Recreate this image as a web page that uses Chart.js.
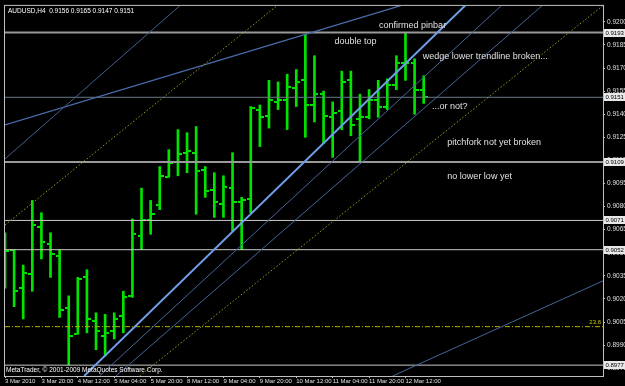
<!DOCTYPE html>
<html>
<head>
<meta charset="utf-8">
<script src="https://cdn.jsdelivr.net/npm/chart.js@4.4.1/dist/chart.umd.min.js"></script>
<style>
  html, body { margin: 0; padding: 0; background: #000; }
  canvas { display: block; }
</style>
</head>
<body>
<canvas id="chart" width="625" height="386"></canvas>
<script>
// ============================================
// AUDUSD H4 - 3 Mar 2010 04:00 .. 12 Mar 2010 20:00
// ============================================

const symbol = 'AUDUSD,H4';

// one value per H4 bar
const opens  = [0.9060, 0.9052, 0.9027, 0.9036, 0.9067, 0.9056, 0.9048, 0.9014, 0.8997, 0.9034,
                0.9006, 0.8996, 0.8999, 0.9009, 0.9022, 0.9061, 0.9071, 0.9081, 0.9099, 0.9109,
                0.9115, 0.9115, 0.9104, 0.9091, 0.9082, 0.9092, 0.9083, 0.9085, 0.9143, 0.9139,
                0.9148, 0.9149, 0.9157, 0.9162, 0.9146, 0.9153, 0.9138, 0.9142, 0.9162, 0.9137,
                0.9138, 0.9149, 0.9145, 0.9159, 0.9173, 0.9173, 0.9156];
const highs  = [0.9063, 0.9052, 0.9042, 0.9084, 0.9076, 0.9063, 0.9052, 0.9022, 0.9034, 0.9039,
                0.9011, 0.9010, 0.9011, 0.9025, 0.9072, 0.9092, 0.9084, 0.9106, 0.9117, 0.9130,
                0.9128, 0.9132, 0.9106, 0.9102, 0.9100, 0.9115, 0.9086, 0.9145, 0.9146, 0.9162,
                0.9161, 0.9166, 0.9169, 0.9192, 0.9178, 0.9155, 0.9148, 0.9168, 0.9168, 0.9153,
                0.9156, 0.9162, 0.9163, 0.9178, 0.9193, 0.9176, 0.9165];
const lows   = [0.9027, 0.9015, 0.9007, 0.9025, 0.9046, 0.9034, 0.9008, 0.8977, 0.8997, 0.8998,
                0.8987, 0.8983, 0.8994, 0.8998, 0.9021, 0.9052, 0.9062, 0.9078, 0.9099, 0.9100,
                0.9102, 0.9075, 0.9086, 0.9073, 0.9073, 0.9064, 0.9052, 0.9076, 0.9119, 0.9131,
                0.9143, 0.9130, 0.9145, 0.9125, 0.9135, 0.9121, 0.9112, 0.9130, 0.9126, 0.9109,
                0.9137, 0.9138, 0.9143, 0.9156, 0.9162, 0.9140, 0.9147];
const closes = [0.9051, 0.9025, 0.9037, 0.9068, 0.9057, 0.9049, 0.9013, 0.8996, 0.9033, 0.9007,
                0.8999, 0.8998, 0.9007, 0.9021, 0.9062, 0.9071, 0.9075, 0.9100, 0.9108, 0.9114,
                0.9116, 0.9103, 0.9090, 0.9083, 0.9093, 0.9083, 0.9084, 0.9144, 0.9138, 0.9149,
                0.9149, 0.9158, 0.9161, 0.9146, 0.9153, 0.9139, 0.9141, 0.9161, 0.9133, 0.9138,
                0.9149, 0.9145, 0.9159, 0.9173, 0.9173, 0.9156, 0.9151];

// time axis: a label every 4th bar
const timeTicks  = [0, 4, 8, 12, 16, 20, 24, 28, 32, 36, 40, 44];
const timeLabels = ['3 Mar 2010', '3 Mar 20:00', '4 Mar 12:00', '5 Mar 04:00', '5 Mar 20:00', '8 Mar 12:00',
                    '9 Mar 04:00', '9 Mar 20:00', '10 Mar 12:00', '11 Mar 04:00', '11 Mar 20:00', '12 Mar 12:00'];
const priceTicks = [0.8975, 0.8990, 0.9005, 0.9020, 0.9035, 0.9050, 0.9065, 0.9080,
                    0.9095, 0.9110, 0.9125, 0.9140, 0.9155, 0.9170, 0.9185, 0.9200];

// horizontal levels (price labels on the axis)
const levelPrices = [0.9193, 0.9151, 0.9109, 0.9071, 0.9052, 0.8977];
const fibPrice = 0.9002;
const fibLabel = '23.6';

// trendlines: [barFrom, priceFrom, barTo, priceTo]
const fanMain   = [8.7, 0.8970, 50.8, 0.9212];
const fanMid    = [10.4, 0.8970, 54.8, 0.9212];
const fanLow    = [12.2, 0.8970, 59.3, 0.9212];
const chanLow   = [14.8, 0.8970, 66.0, 0.9212];
const chanHigh  = [0.0, 0.9068, 30.2, 0.9212];
const steepLine = [0.0, 0.9111, 19.5, 0.9212];
const wedgeTop  = [0.0, 0.9133, 44.3, 0.9212];
const lowerLine = [42.6, 0.8970, 65.8, 0.9032];

// notes: [text, bar, price]
const notes = [
    ['confirmed pinbar', 41.1, 0.91977],
    ['double top', 36.2, 0.91870],
    ['wedge lower trendline broken...', 45.9, 0.91774],
    ['...or not?', 46.9, 0.91452],
    ['pitchfork not yet broken', 48.6, 0.91216],
    ['no lower low yet', 48.6, 0.90998]
];

const BAR_COLOR = '#00e400';
const FONT = 'Liberation Sans';

function tickImage(side) {
    const c = document.createElement('canvas');
    c.width = 8; c.height = 2;
    const g = c.getContext('2d');
    g.fillStyle = BAR_COLOR;
    g.fillRect(side < 0 ? 0 : 5, 0, 3, 2);
    return c;
}

const X_MIN = 0, X_MAX = 65.7;

function segment(seg) {
    return [{ x: seg[0], y: seg[1] }, { x: seg[2], y: seg[3] }];
}
function level(p) {
    return [{ x: X_MIN, y: p }, { x: X_MAX, y: p }];
}
function lineSet(data, color, width, dash) {
    return {
        type: 'line', data: data, borderColor: color, borderWidth: width,
        borderDash: dash || [], pointRadius: 0, tension: 0, fill: false, order: 1
    };
}

const levelStyles = [
    ['#9a9a9a', 2], ['#6c7888', 1], ['#9a9a9a', 2], ['#c8c8c8', 1], ['#c8c8c8', 1], ['#c8c8c8', 1]
];

const datasets = [
    {
        type: 'bar',
        data: highs.map((h, i) => ({ x: i, y: [lows[i], h] })),
        backgroundColor: BAR_COLOR,
        barThickness: 2,
        borderWidth: 0,
        order: 10
    },
    {
        type: 'line', showLine: false,
        data: opens.map((v, i) => ({ x: i, y: v })),
        pointStyle: tickImage(-1), pointRadius: 3, order: 9
    },
    {
        type: 'line', showLine: false,
        data: closes.map((v, i) => ({ x: i, y: v })),
        pointStyle: tickImage(1), pointRadius: 3, order: 9
    },
    lineSet(segment(chanHigh), '#9a9a1e', 1, [1.5, 2]),
    lineSet(segment(chanLow), '#9a9a1e', 1, [1.5, 2]),
    lineSet(segment(steepLine), '#405e90', 1),
    lineSet(segment(wedgeTop), '#4a6ca8', 1.3),
    lineSet(segment(fanMid), '#46659c', 1),
    lineSet(segment(fanLow), '#46659c', 1),
    lineSet(segment(lowerLine), '#46659c', 1),
    lineSet(segment(fanMain), '#6f9fe8', 2),
    lineSet(level(fibPrice), '#b4b400', 1, [5, 2, 1, 2])
];
levelPrices.forEach((p, i) => {
    datasets.push(lineSet(level(p), levelStyles[i][0], levelStyles[i][1]));
});

const overlay = {
    id: 'overlay',
    afterDraw(chart) {
        const ctx = chart.ctx;
        const a = chart.chartArea;
        const xs = chart.scales.x, ys = chart.scales.y;
        ctx.save();

        // frame
        ctx.strokeStyle = '#c0c0c0';
        ctx.lineWidth = 1;
        ctx.strokeRect(a.left - 0.5, a.top - 0.5, a.right - a.left + 1, a.bottom - a.top + 1);

        // notes
        ctx.fillStyle = '#e0e0e0';
        ctx.font = '9px ' + FONT;
        ctx.textBaseline = 'middle';
        ctx.textAlign = 'left';
        notes.forEach(n => {
            ctx.fillText(n[0], xs.getPixelForValue(n[1]), ys.getPixelForValue(n[2]));
        });

        // fib label
        ctx.fillStyle = '#c8c800';
        ctx.font = '6px ' + FONT;
        ctx.textAlign = 'right';
        ctx.textBaseline = 'bottom';
        ctx.fillText(fibLabel, a.right - 2, ys.getPixelForValue(fibPrice) - 1);

        // title
        const last = opens.length - 1;
        const ohlc = [opens[last], highs[last], lows[last], closes[last]].map(v => v.toFixed(4)).join(' ');
        ctx.fillStyle = '#ffffff';
        ctx.textAlign = 'left';
        ctx.textBaseline = 'middle';
        ctx.font = '6.5px ' + FONT;
        ctx.fillText(symbol + '  ' + ohlc, a.left + 3, a.top + 5);

        // copyright
        ctx.fillText('MetaTrader, \u00a9 2001-2009 MetaQuotes Software Corp.', a.left + 1, a.bottom - 6);

        // price boxes for levels
        ctx.font = '6px ' + FONT;
        levelPrices.forEach(p => {
            const y = Math.round(ys.getPixelForValue(p));
            ctx.fillStyle = '#e8e8e8';
            ctx.fillRect(a.right + 1, y - 4, 21, 8);
            ctx.fillStyle = '#000000';
            ctx.fillText(p.toFixed(4), a.right + 2.5, y + 0.5);
        });
        ctx.restore();
    }
};

new Chart(document.getElementById('chart'), {
    type: 'bar',
    data: { datasets: datasets },
    options: {
        responsive: false,
        animation: false,
        devicePixelRatio: 1,
        layout: { padding: { left: 2, top: 2, right: 0, bottom: 0 } },
        plugins: { legend: { display: false }, tooltip: { enabled: false } },
        scales: {
            x: {
                type: 'linear',
                min: X_MIN, max: X_MAX,
                offset: false,
                grid: { offset: false, drawOnChartArea: false, drawTicks: true, tickLength: 2, color: '#c0c0c0' },
                border: { color: '#c0c0c0' },
                afterBuildTicks: s => { s.ticks = timeTicks.map(v => ({ value: v })); },
                afterFit: s => { s.height = 10; },
                ticks: {
                    autoSkip: false, maxRotation: 0, align: 'start', padding: 0,
                    color: '#e0e0e0', font: { family: FONT, size: 6 },
                    callback: v => timeLabels[timeTicks.indexOf(v)]
                }
            },
            y: {
                type: 'linear',
                position: 'right',
                min: 0.896995, max: 0.921036,
                grid: { drawOnChartArea: false, drawTicks: true, tickLength: 2, color: '#c0c0c0' },
                border: { color: '#c0c0c0' },
                afterBuildTicks: s => { s.ticks = priceTicks.map(v => ({ value: v })); },
                afterFit: s => { s.width = 22; },
                ticks: {
                    padding: 2, color: '#e0e0e0', font: { family: FONT, size: 6.5 },
                    callback: v => v.toFixed(4)
                }
            }
        }
    },
    plugins: [overlay]
});
</script>
</body>
</html>
